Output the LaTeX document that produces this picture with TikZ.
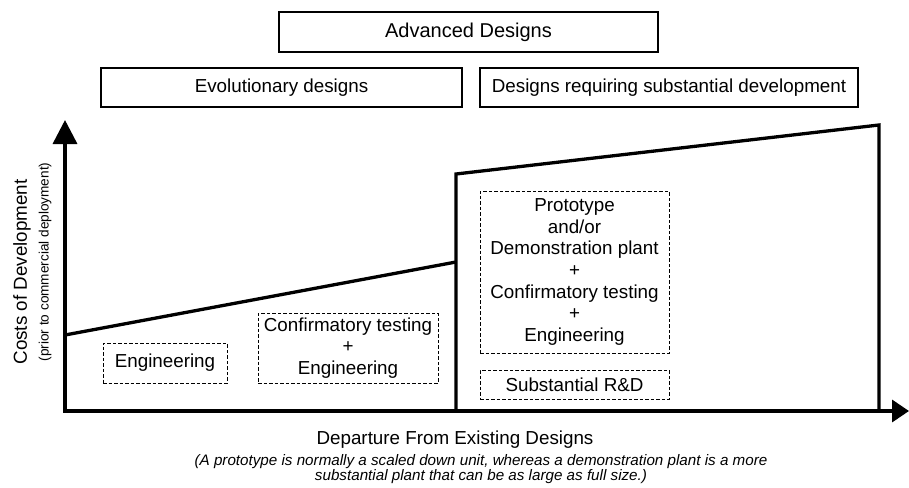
\documentclass[tikz,border=0pt]{standalone}
\usepackage{fontspec}
\setmainfont{Liberation Sans}
\usetikzlibrary{arrows.meta}
\begin{document}
\begin{tikzpicture}[x=1pt,y=-1pt,
  solidbox/.style={draw, line width=1.4pt, inner sep=0pt, font=\fontsize{18.8}{22}\selectfont},
  dashbox/.style={draw, line width=0.9pt, dash pattern=on 3.5pt off 2pt, inner sep=0pt, align=center, font=\fontsize{18.8}{21.7}\selectfont},
  axisline/.style={line width=3.5pt, line join=miter},
  curveline/.style={line width=3.3pt, line join=miter},
  label/.style={inner sep=0pt, font=\fontsize{18.8}{22}\selectfont}
]
\useasboundingbox (0,0) rectangle (909,487);

% header boxes
\node[solidbox, minimum width=379pt, minimum height=40pt] (adv) at (468.5,32) {\fontsize{20}{22}\selectfont Advanced Designs};
\node[solidbox, minimum width=361pt, minimum height=39pt] (evo) at (281.5,87.5) {Evolutionary designs};
\node[solidbox, minimum width=378pt, minimum height=39pt] (dev) at (669,87.5) {Designs requiring substantial development};

% axes
\coordinate (O) at (65,411);
\coordinate (ytip) at (65,120);
\coordinate (xtip) at (909,411);
\draw[axisline, {Triangle[length=24pt,width=24pt]}-{Triangle[length=17pt,width=22pt]}] (ytip) |- (xtip);

% cost curve
\coordinate (a0) at (65,335);
\coordinate (a1) at (456,262);
\coordinate (b0) at (456,411);
\coordinate (b1) at (456,174);
\coordinate (b2) at (879,125);
\coordinate (b3) at (879,411);
\draw[curveline] (a0) -- (a1);
\draw[curveline] (b0) -- (b1) -- (b2) -- (b3);

% dashed boxes
\node[dashbox, minimum width=124pt, minimum height=40pt] (eng) at (165,363) {Engineering};
\node[dashbox, minimum width=180pt, minimum height=70pt] (conf) at (348,348) {Confirmatory testing\\+\\Engineering};
\node[dashbox, minimum width=189pt, minimum height=162pt] (proto) at (574.5,272) {Prototype\\and/or\\Demonstration plant\\+\\Confirmatory testing\\+\\Engineering};
\node[dashbox, minimum width=189pt, minimum height=29pt] (rd) at (574.5,384.5) {Substantial R\&D};

% axis labels
\node[label, rotate=90] (ylab) at (22,272) {Costs of Development};
\node[label, rotate=90, font=\fontsize{13.6}{15}\selectfont] (ysub) at (45,262) {(prior to commercial deployment)};
\node[label] (xlab) at (455,440) {Departure From Existing Designs};
\node[label, align=center, font=\fontsize{15.2}{15}\selectfont\itshape] (cap) at (481,469.5) {(A prototype is normally a scaled down unit, whereas a demonstration plant is a more\\substantial plant that can be as large as full size.)};
\end{tikzpicture}
\end{document}
